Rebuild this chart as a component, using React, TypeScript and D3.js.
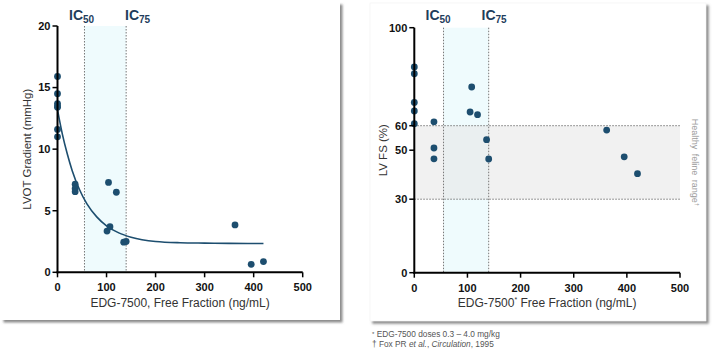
import React from "react";
import * as d3 from "d3";

// ---------- data ----------
const lvotX = [0, 0, 0, 0, 0, 0, 0, 36, 36, 36, 104, 120, 101, 107, 135, 140, 362, 395, 420];
const lvotY = [15.9, 14.5, 13.7, 13.5, 13.4, 11.6, 11.0, 7.15, 6.8, 6.55, 7.3, 6.5, 3.35, 3.7, 2.45, 2.5, 3.85, 0.65, 0.87];

const fitX = [0, 10, 20, 30, 45, 60, 80, 100, 125, 150, 200, 250, 300, 350, 420];
const fitY = [13.2, 11.2, 9.6, 8.25, 6.7, 5.55, 4.5, 3.77, 3.2, 2.85, 2.5, 2.4, 2.37, 2.35, 2.34];

const fsX = [0, 0, 0, 0, 0, 37, 37, 37, 108, 105, 119, 136, 140, 362, 395, 420];
const fsY = [84, 81.2, 69.5, 66, 60.8, 61.6, 50.9, 46.5, 75.8, 65.6, 64.5, 54.3, 46.4, 58.2, 47.3, 40.4];

const icValues = [55, 140];
const icLabels = ["50", "75"];
const xTicks = [0, 100, 200, 300, 400, 500];
const lvotTicks = [0, 5, 10, 15, 20];
const fsTicks = [0, 30, 50, 60, 100];
const healthyRange = [30, 60];

const DOT = "#1d4e6f";
const IC_COLOR = "#1f3d5c";
const FONT = "Liberation Sans, Arial, sans-serif";

function Axes({ x, y, xt, yt }: any) {
  const [x0, x1] = x.range();
  const [y0, y1] = y.range();
  return (
    <g fontFamily={FONT} fontWeight="bold" fontSize={11} fill="#111">
      <line x1={x0} x2={x0} y1={y0 + 1} y2={y1} stroke="#000" strokeWidth={2} />
      <line x1={x0 - 1} x2={x1} y1={y0} y2={y0} stroke="#000" strokeWidth={2} />
      {yt.map((t: number) => (
        <g key={"y" + t}>
          <line x1={x0 - 5} x2={x0} y1={y(t)} y2={y(t)} stroke="#000" strokeWidth={1.5} />
          <text x={x0 - 7} y={y(t)} dy="0.35em" textAnchor="end">{t}</text>
        </g>
      ))}
      {xt.map((t: number) => (
        <g key={"x" + t}>
          <line x1={x(t)} x2={x(t)} y1={y0} y2={y0 + 5} stroke="#000" strokeWidth={1.5} />
          <text x={x(t)} y={y0 + 15} dy="0.35em" textAnchor="middle">{t}</text>
        </g>
      ))}
    </g>
  );
}

function ICBand({ x, top, bottom }: any) {
  return (
    <rect x={x(icValues[0])} y={top} width={x(icValues[1]) - x(icValues[0])} height={bottom - top} fill="#effbfd" />
  );
}

function ICLines({ x, top, bottom, labelX }: any) {
  return (
    <g>
      {icValues.map((v, i) => (
        <line key={i} x1={x(v)} x2={x(v)} y1={top} y2={bottom} stroke="#777" strokeWidth={1} strokeDasharray="1.5,1.5" />
      ))}
      {icValues.map((v, i) => (
        <text key={"l" + i} x={labelX[i]} y={20} fontFamily={FONT} fontWeight="bold" fontSize={14} fill={IC_COLOR}>
          IC<tspan fontSize={10} dy={3}>{icLabels[i]}</tspan>
        </text>
      ))}
    </g>
  );
}

export default function App() {
  const xL = d3.scaleLinear().domain([0, 500]).range([57.5, 302.7]);
  const yL = d3.scaleLinear().domain([0, 20]).range([272.3, 26]);
  const xR = d3.scaleLinear().domain([0, 500]).range([414.3, 680]);
  const yR = d3.scaleLinear().domain([0, 100]).range([272.7, 27.7]);

  const fitLine = d3
    .line<number>()
    .x((d, i) => xL(fitX[i]))
    .y((d, i) => yL(fitY[i]))
    .curve(d3.curveMonotoneX)(fitX);

  return (
    <svg width={714} height={355} style={{ position: "absolute", left: 0, top: 0 }}>
      <defs>
        <filter id="sh" x="-5%" y="-5%" width="110%" height="110%">
          <feDropShadow dx={2.5} dy={2.5} stdDeviation={1.3} floodColor="#777" floodOpacity={0.85} />
        </filter>
      </defs>
      <rect width={714} height={355} fill="#fff" />
      <rect x={1} y={2} width={339} height={318} fill="#fff" filter="url(#sh)" />
      <rect x={370} y={3} width={336} height={318} fill="#fff" stroke="#eee" strokeWidth={0.5} filter="url(#sh)" />

      {/* ---------- Left panel ---------- */}
      <ICBand x={xL} top={yL(20)} bottom={yL(0)} />
      <ICLines x={xL} top={yL(20)} bottom={yL(0)} labelX={[69, 125]} />
      <path d={fitLine || ""} fill="none" stroke={DOT} strokeWidth={1.6} />
      {lvotX.map((v, i) => (
        <circle key={i} cx={xL(v)} cy={yL(lvotY[i])} r={3.4} fill={DOT} />
      ))}
      <Axes x={xL} y={yL} xt={xTicks} yt={lvotTicks} />
      <text
        transform={`translate(27,${(yL(0) + yL(20)) / 2}) rotate(-90)`}
        textAnchor="middle"
        dy="0.35em"
        fontFamily={FONT}
        fontSize={11.5}
        fill="#333"
      >
        LVOT Gradient (mmHg)
      </text>
      <text x={(xL(0) + xL(500)) / 2} y={303} dy="0.35em" textAnchor="middle" fontFamily={FONT} fontSize={12} fill="#333">
        EDG-7500, Free Fraction (ng/mL)
      </text>

      {/* ---------- Right panel ---------- */}
      <ICBand x={xR} top={yR(100)} bottom={yR(0)} />
      <rect
        x={xR(0)}
        y={yR(healthyRange[1])}
        width={xR(500) - xR(0)}
        height={yR(healthyRange[0]) - yR(healthyRange[1])}
        fill="#e6e6e6"
        fillOpacity={0.55}
      />
      {healthyRange.map((v, i) => (
        <line key={i} x1={xR(0)} x2={xR(500)} y1={yR(v)} y2={yR(v)} stroke="#777" strokeWidth={1} strokeDasharray="1.5,1.5" />
      ))}
      <ICLines x={xR} top={yR(100)} bottom={yR(0)} labelX={[425.5, 481.5]} />
      {fsX.map((v, i) => (
        <circle key={i} cx={xR(v)} cy={yR(fsY[i])} r={3.4} fill={DOT} />
      ))}
      <Axes x={xR} y={yR} xt={xTicks} yt={fsTicks} />
      <text
        transform={`translate(383,${(yR(0) + yR(100)) / 2}) rotate(-90)`}
        textAnchor="middle"
        dy="0.35em"
        fontFamily={FONT}
        fontSize={11.5}
        fill="#333"
      >
        LV FS (%)
      </text>
      <text x={(xR(0) + xR(500)) / 2} y={303} dy="0.35em" textAnchor="middle" fontFamily={FONT} fontSize={12} fill="#333">
        EDG-7500<tspan fontSize={7} dy={-5}>*</tspan>
        <tspan dy={5}> Free Fraction (ng/mL)</tspan>
      </text>
      <text
        transform={`translate(695,${(yR(healthyRange[0]) + yR(healthyRange[1])) / 2}) rotate(90)`}
        textAnchor="middle"
        dy="0.35em"
        fontFamily={FONT}
        fontSize={9}
        fill="#9a9a9a"
        wordSpacing={2}
      >
        Healthy feline range<tspan fontSize={6} dy={-3}>†</tspan>
      </text>

      {/* footnotes */}
      <g fontFamily={FONT} fontSize={8.3} fill="#555">
        <text x={372} y={337}>
          <tspan fontSize={6} dy={-1}>*</tspan>
          <tspan dy={1}> EDG-7500 doses 0.3 – 4.0 mg/kg</tspan>
        </text>
        <text x={372} y={347}>
          <tspan>†</tspan> Fox PR <tspan fontStyle="italic">et al.</tspan>, <tspan fontStyle="italic">Circulation</tspan>, 1995
        </text>
      </g>
    </svg>
  );
}
